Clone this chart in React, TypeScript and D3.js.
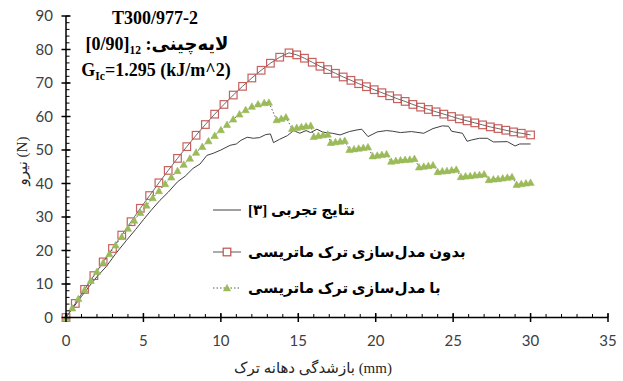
import React from "react";
import * as d3 from "d3";

// ---- data ----
const xTicks = [0, 5, 10, 15, 20, 25, 30, 35];
const yTicks = [0, 10, 20, 30, 40, 50, 60, 70, 80, 90];

// Experimental results [3]
const expX = [0, 0.5, 1, 1.5, 2, 2.6, 3.2, 3.9, 4.5, 5, 5.5, 6.07, 6.6, 7.2, 7.7, 8.2, 8.65, 9.1, 9.5, 10, 10.6, 11.0, 11.3, 11.7, 12.1, 12.5, 12.9, 13.2, 13.4, 13.8, 14.3, 14.7, 15.1, 15.5, 15.8, 16.2, 16.6, 17.2, 17.7, 18.3, 18.8, 19.1, 19.5, 20.1, 20.7, 21.1, 21.6, 22.3, 23.1, 23.7, 24.3, 24.7, 24.9, 25.6, 25.9, 26.2, 26.7, 27.2, 27.6, 28.5, 29.0, 29.3, 30];
const expY = [0, 3.2, 6.3, 9.3, 12.2, 15.2, 19, 23, 26.3, 29.2, 32, 35, 37.4, 40.5, 42.2, 44.5, 45.8, 48.4, 49.0, 50, 51.4, 51.8, 52.9, 53.8, 53.5, 53.7, 54.6, 54.8, 52.2, 53.2, 54.3, 55.8, 55.0, 55.8, 55.2, 56.2, 55.3, 55.0, 54.5, 55.5, 56.0, 56.2, 54.0, 55.4, 55.8, 55.6, 55.2, 55.5, 55.0, 56.4, 57.2, 57.1, 55.6, 55.0, 52.6, 53.0, 53.5, 53.5, 52.4, 52.5, 51.2, 51.8, 51.8];

// Without matrix crack modelling
const noCrackX = [0, 0.6, 1.2, 1.8, 2.4, 3.0, 3.6, 4.2, 4.8, 5.4, 6.0, 6.6, 7.2, 7.8, 8.4, 9.0, 9.6, 10.2, 10.8, 11.4, 12.0, 12.6, 13.2, 13.8, 14.4, 14.9, 15.4, 15.9, 16.4, 16.9, 17.4, 17.9, 18.4, 18.9, 19.4, 19.9, 20.4, 20.9, 21.4, 21.9, 22.4, 22.9, 23.4, 23.9, 24.4, 24.9, 25.4, 25.9, 26.4, 26.9, 27.4, 27.9, 28.4, 28.9, 29.4, 30.0];
const noCrackY = [0, 4.2, 8.4, 12.5, 16.6, 20.6, 24.6, 28.6, 32.6, 36.4, 40.2, 43.9, 47.5, 51.0, 54.4, 57.6, 60.7, 63.6, 66.4, 69.0, 71.5, 73.8, 75.9, 77.7, 79.0, 78.4, 77.4, 76.2, 75.0, 74.0, 72.9, 71.8, 70.8, 69.8, 68.9, 68.0, 67.1, 66.2, 65.3, 64.5, 63.6, 62.8, 62.1, 61.4, 60.7, 60.0, 59.3, 58.7, 58.1, 57.5, 56.9, 56.4, 55.9, 55.4, 55.0, 54.5];

// With matrix crack modelling
const crackX = [0, 0.4, 0.8, 1.2, 1.6, 2.0, 2.4, 2.8, 3.2, 3.6, 4.0, 4.4, 4.8, 5.2, 5.6, 6.0, 6.4, 6.8, 7.2, 7.6, 8.0, 8.4, 8.8, 9.2, 9.6, 10.0, 10.4, 10.8, 11.2, 11.6, 12.0, 12.4, 12.8, 13.1,
  13.6, 13.9, 14.2, 14.6, 14.9, 15.2, 15.5, 15.8, 16.0, 16.3, 16.6, 16.9, 17.1, 17.4, 17.7, 18.0, 18.3, 18.6, 18.9, 19.2, 19.5, 19.8, 20.1, 20.4, 20.7,
  21.0, 21.3, 21.6, 21.9, 22.2, 22.5, 22.8, 23.1, 23.4, 23.7, 24.0, 24.3, 24.6, 24.9, 25.2, 25.5, 25.8, 26.1, 26.4, 26.7, 27.0, 27.3, 27.6, 27.9, 28.2, 28.5, 28.8, 29.1, 29.4, 29.7, 30.0];
const crackY = [0, 2.8, 5.6, 8.3, 11.0, 13.7, 16.4, 19.0, 21.6, 24.1, 26.6, 29.0, 31.3, 33.5, 35.7, 37.8, 39.9, 41.9, 43.8, 45.7, 47.5, 49.3, 51.0, 52.7, 54.3, 56.0, 57.6, 59.2, 60.7, 62.0, 63.0, 63.7, 64.1, 64.2,
  59.0, 59.4, 59.8, 56.4, 56.7, 56.9, 57.1, 57.3, 54.0, 54.3, 54.5, 54.7, 52.2, 52.4, 52.6, 52.8, 50.1, 50.3, 50.5, 50.7, 50.9, 48.2, 48.4, 48.6, 48.8,
  46.6, 46.8, 47.0, 47.1, 47.2, 47.4, 44.9, 45.1, 45.3, 45.5, 43.5, 43.7, 43.8, 44.0, 44.2, 42.0, 42.2, 42.3, 42.5, 42.6, 42.8, 41.1, 41.3, 41.4, 41.6, 41.8, 42.0, 39.7, 39.9, 40.1, 40.3];

const legendLabels = ["نتایج تجربی [۳]", "بدون مدل‌سازی ترک ماتریسی", "با مدل‌سازی ترک ماتریسی"];
const titleLine1 = "T300/977-2";
const titleLayup = "[0/90]";
const titleLayupSub = "12";
const titleLayupLabel = " :لایه‌چینی";
const yTitle = "نیرو (N)";
const xTitle = "بازشدگی دهانه ترک (mm)";

const W = 623;
const H = 381;

export default function App() {
  const x = d3.scaleLinear().domain([0, 35]).range([66, 608]);
  const y = d3.scaleLinear().domain([0, 90]).range([317.5, 16]);

  const toPts = (xs: number[], ys: number[]) => xs.map((v, i) => [v, ys[i]] as [number, number]);
  const line = d3.line<[number, number]>().x((d) => x(d[0])).y((d) => y(d[1]));

  const expPts = toPts(expX, expY);
  const noPts = toPts(noCrackX, noCrackY);
  const crPts = toPts(crackX, crackY);

  const xMinor = d3.range(0, 36, 1);
  const yMinor = d3.range(0, 91, 2);

  const red = "#C0504D";
  const green = "#9BBB59";
  const lineGray = "#595959";
  const tickColor = "#404040";
  const persian = "'Liberation Serif', 'DejaVu Sans', serif";

  const tri = (cx: number, cy: number, s = 7.2) =>
    `M${cx},${cy - s * 0.5} L${cx + s * 0.5},${cy + s * 0.4} L${cx - s * 0.5},${cy + s * 0.4} Z`;

  const legY = [210, 252, 288];

  return (
    <svg width={W} height={H} style={{ position: "absolute", left: 0, top: 0, background: "#fff" }}>
      {/* series */}
      <path d={line(expPts) || ""} fill="none" stroke="#404040" strokeWidth={1} />
      <path d={line(noPts) || ""} fill="none" stroke={lineGray} strokeWidth={0.9} />
      {noPts.map((d, i) => (
        <rect key={"n" + i} x={x(d[0]) - 3.8} y={y(d[1]) - 3.8} width={7.6} height={7.6} fill="none" stroke={red} strokeWidth={1.2} strokeOpacity={0.9} />
      ))}
      <path d={line(crPts) || ""} fill="none" stroke={lineGray} strokeWidth={1} strokeDasharray="1.5,2" />
      {crPts.map((d, i) => (
        <path key={"c" + i} d={tri(x(d[0]), y(d[1]))} fill={green} stroke={green} strokeWidth={0.6} />
      ))}

      {/* axes */}
      <line x1={x(0)} x2={x(35)} y1={y(0)} y2={y(0)} stroke="#000" strokeWidth={1.5} />
      <line x1={x(0)} x2={x(0)} y1={y(0)} y2={y(90)} stroke="#000" strokeWidth={1.5} />
      {xMinor.map((v) => (
        <line key={"xm" + v} x1={x(v)} x2={x(v)} y1={y(0)} y2={y(0) - 3.5} stroke="#000" strokeWidth={1} />
      ))}
      {xTicks.map((v) => (
        <line key={"xt" + v} x1={x(v)} x2={x(v)} y1={y(0) - 4.5} y2={y(0) + 4.5} stroke="#000" strokeWidth={1.5} />
      ))}
      {yMinor.map((v) => (
        <line key={"ym" + v} x1={x(0)} x2={x(0) + 3.5} y1={y(v)} y2={y(v)} stroke="#000" strokeWidth={1} />
      ))}
      {yTicks.map((v) => (
        <line key={"yt" + v} x1={x(0) - 4.5} x2={x(0) + 4.5} y1={y(v)} y2={y(v)} stroke="#000" strokeWidth={1.5} />
      ))}
      {xTicks.map((v) => (
        <text key={"xl" + v} x={x(v)} y={346} textAnchor="middle" fontFamily="Lato, 'Open Sans', sans-serif" fontSize={15} fill={tickColor}>
          {v}
        </text>
      ))}
      {yTicks.map((v) => (
        <text key={"yl" + v} x={53} y={y(v) + 5} textAnchor="end" fontFamily="Lato, 'Open Sans', sans-serif" fontSize={15} fill={tickColor}>
          {v}
        </text>
      ))}

      {/* axis titles */}
      <text x={313} y={373} textAnchor="middle" fontFamily={persian} fontSize={15} fill="#262626">
        {xTitle}
      </text>
      <text transform="translate(27,161) rotate(-90)" textAnchor="middle" fontFamily={persian} fontSize={15} fill="#262626">
        {yTitle}
      </text>

      {/* title block */}
      <g fontFamily={persian} fontWeight="bold" fontSize={18} fill="#000" textAnchor="middle">
        <text x={155} y={24}>{titleLine1}</text>
        <text x={157} y={50}>
          {titleLayup}
          <tspan fontSize={11.5} dy={4}>{titleLayupSub}</tspan>
          <tspan dy={-4}>{titleLayupLabel}</tspan>
        </text>
        <text x={156} y={76}>
          G<tspan fontSize={11.5} dy={4}>Ic</tspan>
          <tspan dy={-4}>=1.295 (kJ/m^2)</tspan>
        </text>
      </g>

      {/* legend */}
      <line x1={213} x2={241} y1={legY[0]} y2={legY[0]} stroke="#404040" strokeWidth={1} />
      <line x1={213} x2={241} y1={legY[1]} y2={legY[1]} stroke={lineGray} strokeWidth={1} />
      <rect x={227 - 3.8} y={legY[1] - 3.8} width={7.6} height={7.6} fill="#fff" stroke={red} strokeWidth={1.2} />
      <line x1={213} x2={241} y1={legY[2]} y2={legY[2]} stroke={lineGray} strokeWidth={1} strokeDasharray="1.5,2" />
      <path d={tri(227, legY[2])} fill={green} stroke={green} strokeWidth={0.6} />
      {legendLabels.map((t, i) => (
        <text key={"lg" + i} x={248} y={legY[i] + 5} direction="rtl" textAnchor="end" fontFamily={persian} fontWeight="bold" fontSize={15} fill="#000">
          {t}
        </text>
      ))}
    </svg>
  );
}
